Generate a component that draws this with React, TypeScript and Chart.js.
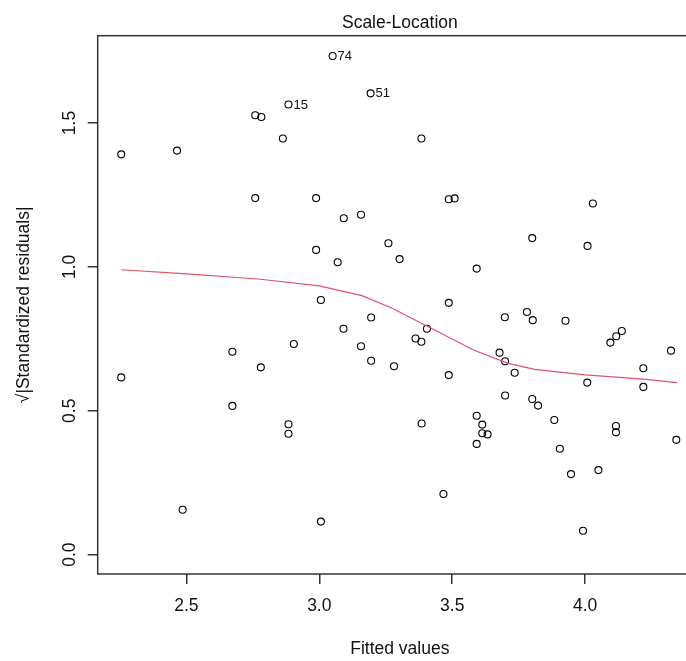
import React, { useEffect, useRef } from "react";
import { Chart, registerables } from "chart.js";

Chart.register(...registerables);

// ---- data ----
const fittedValues = [
  2.255, 2.255, 2.465, 2.486, 2.673, 2.673, 2.759, 2.782, 2.759, 2.780,
  2.863, 2.884, 2.884, 2.884, 2.904, 2.988, 2.988, 3.006, 3.006, 3.050,
  3.069, 3.092, 3.091, 3.157, 3.157, 3.193, 3.195, 3.195, 3.260, 3.281,
  3.302, 3.362, 3.384, 3.384, 3.385, 3.405, 3.467, 3.487, 3.509, 3.487,
  3.487, 3.592, 3.592, 3.592, 3.613, 3.613, 3.633, 3.678, 3.698, 3.699,
  3.699, 3.735, 3.781, 3.803, 3.801, 3.801, 3.823, 3.884, 3.905, 3.926,
  3.947, 3.992, 4.008, 4.009, 4.029, 4.050, 4.095, 4.117, 4.138, 4.116,
  4.116, 4.219, 4.219, 4.323, 4.343,
];
const sqrtStdResiduals = [
  1.391, 0.616, 1.404, 0.156, 0.705, 0.517, 1.527, 1.521, 1.239, 0.651,
  1.446, 1.564, 0.453, 0.420, 0.732, 1.239, 1.059, 0.885, 0.115, 1.733,
  1.016, 1.169, 0.785, 1.181, 0.724, 1.603, 0.824, 0.674, 1.082, 0.655,
  1.027, 0.751, 0.740, 1.446, 0.456, 0.785, 0.211, 1.235, 1.238, 0.875,
  0.624, 0.994, 0.483, 0.385, 0.452, 0.422, 0.418, 0.702, 0.825, 0.672,
  0.553, 0.632, 0.843, 0.815, 1.100, 0.541, 0.518, 0.468, 0.368, 0.813,
  0.280, 0.083, 0.598, 1.073, 1.220, 0.294, 0.737, 0.759, 0.777, 0.447,
  0.425, 0.648, 0.583, 0.709, 0.399,
];
const smoothX = [2.255, 2.5, 2.77, 3.0, 3.16, 3.27, 3.41, 3.58, 3.71, 3.81, 4.0, 4.23, 4.345];
const smoothY = [0.990, 0.976, 0.958, 0.934, 0.900, 0.858, 0.792, 0.711, 0.665, 0.644, 0.625, 0.609, 0.598];
const labeledIndex = [11, 19, 25];
const labeledText = ["15", "74", "51"];
const xTickValues = [2.5, 3.0, 3.5, 4.0];
const yTickValues = [0.0, 0.5, 1.0, 1.5];
const chartTitle = "Scale-Location";
const xAxisTitle = "Fitted values";
const yAxisTitle = "√|Standardized residuals|";

const FONT = '"Liberation Sans", Arial, sans-serif';
const AXIS_COLOR = "#333333";
const TEXT_COLOR = "#111111";

const decorPlugin = {
  id: "decor",
  afterDraw(chart: any) {
    const { ctx, chartArea, scales } = chart;
    ctx.save();
    // box
    ctx.strokeStyle = AXIS_COLOR;
    ctx.lineWidth = 1.5;
    ctx.strokeRect(
      chartArea.left,
      chartArea.top,
      chartArea.right - chartArea.left,
      chartArea.bottom - chartArea.top
    );
    // title
    ctx.fillStyle = TEXT_COLOR;
    ctx.font = `17.5px ${FONT}`;
    ctx.textAlign = "center";
    ctx.textBaseline = "alphabetic";
    ctx.fillText(chartTitle, (chartArea.left + chartArea.right) / 2, 28);
    // rotated y tick labels
    const ys = scales.y;
    for (const v of yTickValues) {
      const py = ys.getPixelForValue(v);
      ctx.save();
      ctx.translate(75, py);
      ctx.rotate(-Math.PI / 2);
      ctx.textAlign = "center";
      ctx.textBaseline = "alphabetic";
      ctx.fillText(v.toFixed(1), 0, 0);
      ctx.restore();
    }
    // point id labels
    const meta = chart.getDatasetMeta(1);
    ctx.font = `13px ${FONT}`;
    ctx.textAlign = "left";
    ctx.textBaseline = "middle";
    labeledIndex.forEach((idx, k) => {
      const el = meta.data[idx];
      if (el) ctx.fillText(labeledText[k], el.x + 5, el.y + 0.5);
    });
    ctx.restore();
  },
};

export default function App() {
  const canvasRef = useRef<HTMLCanvasElement | null>(null);

  useEffect(() => {
    if (!canvasRef.current) return;
    const chart = new Chart(canvasRef.current, {
      type: "scatter",
      data: {
        datasets: [
          {
            label: "smooth",
            data: smoothX.map((x, i) => ({ x, y: smoothY[i] })),
            showLine: true,
            borderColor: "#DF536B",
            borderWidth: 1.2,
            pointRadius: 0,
            tension: 0,
            order: 0,
          },
          {
            label: "points",
            data: fittedValues.map((x, i) => ({ x, y: sqrtStdResiduals[i] })),
            showLine: false,
            pointStyle: "circle",
            pointRadius: 3.5,
            pointBorderWidth: 1.1,
            pointBorderColor: "#000000",
            pointBackgroundColor: "rgba(0,0,0,0)",
            order: 1,
          },
        ],
      },
      options: {
        responsive: false,
        maintainAspectRatio: false,
        animation: false,
        events: [],
        layout: { padding: { top: 35.7, right: 8, left: 0, bottom: 0 } },
        plugins: {
          legend: { display: false },
          tooltip: { enabled: false },
          title: { display: false },
        },
        scales: {
          x: {
            type: "linear",
            position: "bottom",
            min: 2.1664,
            max: 4.4396,
            afterFit: (s: any) => {
              s.height = 87;
            },
            afterBuildTicks: (s: any) => {
              s.ticks = xTickValues.map((v) => ({ value: v }));
            },
            border: { display: false },
            grid: {
              drawOnChartArea: false,
              drawTicks: true,
              tickLength: 10,
              color: AXIS_COLOR,
              lineWidth: 1.5,
            },
            ticks: {
              color: TEXT_COLOR,
              font: { family: FONT, size: 17.5 },
              padding: 11.5,
              maxRotation: 0,
              minRotation: 0,
              callback: (v: any) => Number(v).toFixed(1),
            },
            title: {
              display: true,
              text: xAxisTitle,
              color: TEXT_COLOR,
              font: { family: FONT, size: 17.5 },
              padding: { top: 0, bottom: 1 },
            },
          },
          y: {
            type: "linear",
            position: "left",
            min: -0.0671,
            max: 1.8033,
            afterFit: (s: any) => {
              s.width = 97.7;
            },
            afterBuildTicks: (s: any) => {
              s.ticks = yTickValues.map((v) => ({ value: v }));
            },
            border: { display: false },
            grid: {
              drawOnChartArea: false,
              drawTicks: true,
              tickLength: 10,
              color: AXIS_COLOR,
              lineWidth: 1.5,
            },
            ticks: {
              display: false,
            },
            title: {
              display: true,
              text: yAxisTitle,
              color: TEXT_COLOR,
              font: { family: FONT, size: 17.5 },
              padding: { top: 14, bottom: 0 },
            },
          },
        },
      },
      plugins: [decorPlugin],
    });
    return () => chart.destroy();
  }, []);

  return (
    <div
      style={{
        position: "fixed",
        left: 0,
        top: 0,
        width: 686,
        height: 661,
        overflow: "hidden",
        background: "#ffffff",
      }}
    >
      <canvas ref={canvasRef} width={710} height={661} style={{ width: 710, height: 661, display: "block" }} />
    </div>
  );
}
